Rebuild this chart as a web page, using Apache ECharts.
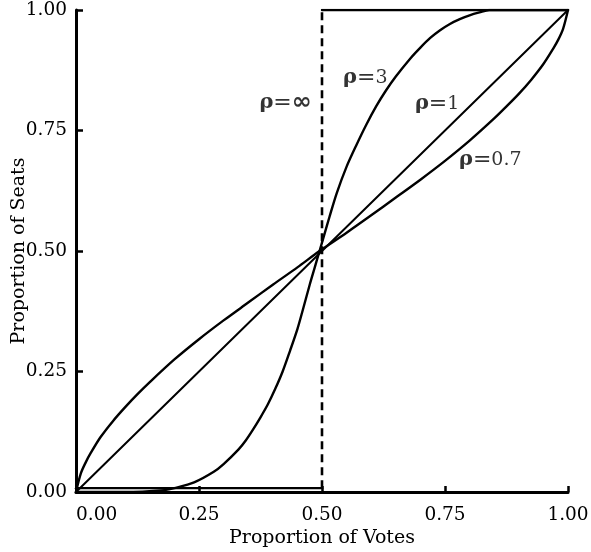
<!DOCTYPE html>
<html>
<head>
<meta charset="utf-8">
<script src="https://cdn.jsdelivr.net/npm/echarts@6/dist/echarts.min.js"></script>
<style>html,body{margin:0;padding:0;background:#fff;}#c{width:591px;height:552px;}</style>
</head>
<body>
<div id="c"></div>
<script>
// ---- data ----
const xTicks = [0, 0.25, 0.5, 0.75, 1];
const yTicks = [0, 0.25, 0.5, 0.75, 1];

const rho07X = [0, 0.01, 0.02, 0.03, 0.05, 0.075, 0.10, 0.125, 0.15, 0.20, 0.25, 0.30, 0.35, 0.40, 0.45, 0.495, 0.55, 0.60, 0.65, 0.70, 0.75, 0.80, 0.85, 0.875, 0.90, 0.925, 0.95, 0.97, 0.98, 0.99, 1];
const rho07Y = [0, 0.039, 0.062, 0.081, 0.114, 0.147, 0.176, 0.203, 0.228, 0.275, 0.317, 0.356, 0.393, 0.43, 0.466, 0.50, 0.538, 0.574, 0.611, 0.648, 0.687, 0.729, 0.775, 0.80, 0.826, 0.855, 0.888, 0.920, 0.938, 0.961, 1];

const rho3X = [0, 0.10, 0.18, 0.20, 0.24, 0.28, 0.30, 0.33, 0.345, 0.36, 0.375, 0.39, 0.405, 0.42, 0.435, 0.45, 0.46, 0.475, 0.485, 0.495, 0.505, 0.515, 0.53, 0.55, 0.57, 0.59, 0.61, 0.63, 0.65, 0.68, 0.70, 0.72, 0.74, 0.76, 0.78, 0.80, 0.82, 0.84, 1];
const rho3Y = [0, 0.0, 0.004, 0.008, 0.02, 0.042, 0.058, 0.088, 0.107, 0.13, 0.155, 0.182, 0.214, 0.25, 0.293, 0.338, 0.374, 0.43, 0.465, 0.50, 0.535, 0.57, 0.62, 0.675, 0.72, 0.762, 0.80, 0.833, 0.862, 0.90, 0.922, 0.942, 0.958, 0.971, 0.981, 0.989, 0.995, 1.0, 1];

const rho1X = [0, 1];
const rho1Y = [0, 1];

const rhoInfLowX = [0, 0.5];
const rhoInfLowY = [0.008, 0.008];
const rhoInfStepX = [0.5, 0.5];
const rhoInfStepY = [0.008, 1];
const rhoInfTopX = [0.5, 1];
const rhoInfTopY = [1, 1];

const labelNames = ['∞', '3', '1', '0.7'];
const labelX = [0.426, 0.588, 0.734, 0.842];
const labelY = [0.807, 0.859, 0.805, 0.689];

// ---- build ----
const zip = (xs, ys) => xs.map((x, i) => [x, ys[i]]);
const FONT = 'DejaVu Serif';
const lineSeries = (xs, ys, w, smooth) => ({
  type: 'line', data: zip(xs, ys), showSymbol: false, symbol: 'none',
  smooth: smooth || false, silent: true, animation: false,
  lineStyle: { color: '#000', width: w, cap: 'round', join: 'round' },
  z: 3
});

const chart = echarts.init(document.getElementById('c'), null, { renderer: 'canvas' });
chart.setOption({
  backgroundColor: '#fff',
  animation: false,
  grid: { left: 76, right: 23, top: 10, bottom: 60, containLabel: false, outerBoundsMode: 'none' },
  xAxis: {
    type: 'value', min: 0, max: 1, interval: 0.25,
    name: 'Proportion of Votes', nameLocation: 'middle', nameGap: 37, nameMoveOverlap: false,
    nameTextStyle: { fontFamily: FONT, fontSize: 19, color: '#000' },
    axisLine: { show: true, onZero: false, lineStyle: { color: '#000', width: 3 } },
    axisTick: { show: true, inside: true, length: 6, lineStyle: { color: '#000', width: 2.5 } },
    axisLabel: { margin: 14, fontFamily: FONT, fontSize: 18.5, color: '#000', alignMinLabel: 'left',
      formatter: v => xTicks.includes(v) ? v.toFixed(2) : '' },
    splitLine: { show: false }
  },
  yAxis: {
    type: 'value', min: 0, max: 1, interval: 0.25,
    name: 'Proportion of Seats', nameLocation: 'middle', nameGap: 47, nameMoveOverlap: false,
    nameTextStyle: { fontFamily: FONT, fontSize: 19, color: '#000' },
    axisLine: { show: true, onZero: false, lineStyle: { color: '#000', width: 3 } },
    axisTick: { show: true, inside: true, length: 7, lineStyle: { color: '#000', width: 2.5 } },
    axisLabel: { margin: 9, fontFamily: FONT, fontSize: 18.5, color: '#000',
      formatter: v => yTicks.includes(v) ? v.toFixed(2) : '' },
    splitLine: { show: false }
  },
  series: [
    lineSeries(rho07X, rho07Y, 2.4, 0.3),
    lineSeries(rho3X, rho3Y, 2.4, 0.3),
    lineSeries(rho1X, rho1Y, 2),
    lineSeries(rhoInfLowX, rhoInfLowY, 2.4),
    {
      type: 'line', data: zip(rhoInfStepX, rhoInfStepY), showSymbol: false, symbol: 'none',
      silent: true, animation: false, z: 3,
      lineStyle: { color: '#000', width: 2.6, type: [8, 5] }
    },
    lineSeries(rhoInfTopX, rhoInfTopY, 2.4),
    {
      type: 'scatter', symbolSize: 0, silent: true, animation: false, z: 5,
      itemStyle: { color: '#000' },
      data: labelNames.map((n, i) => ({ value: [labelX[i], labelY[i]], name: n })),
      label: {
        show: true, position: 'inside', color: '#000', textBorderWidth: 0,
        formatter: p => '{r|ρ}{e|=}' + (p.name === '∞' ? '{i|∞}' : '{n|' + p.name + '}'),
        rich: {
          r: { fontFamily: FONT, fontSize: 21, fontWeight: 'bold', color: '#000', textBorderWidth: 0 },
          e: { fontFamily: 'DejaVu Sans', fontSize: 22, color: '#000', textBorderWidth: 0 },
          n: { fontFamily: FONT, fontSize: 19, color: '#000', textBorderWidth: 0 },
          i: { fontFamily: 'DejaVu Sans', fontSize: 24, fontWeight: 'bold', color: '#000', textBorderWidth: 0 }
        }
      }
    }
  ]
});
</script>
</body>
</html>
